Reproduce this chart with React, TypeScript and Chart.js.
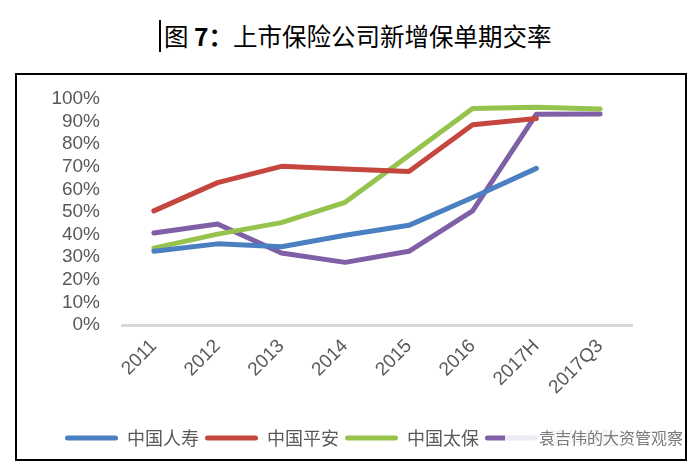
import { useEffect, useRef } from 'react'
import Chart from 'chart.js/auto'

const categories = ['2011', '2012', '2013', '2014', '2015', '2016', '2017H', '2017Q3']
const seriesNames = ['中国人寿', '中国平安', '中国太保', '新华保险']
const chinaLife = [32.6, 35.9, 34.6, 39.7, 44.1, 56.4, 69.3, null]
const pingAn = [50.5, 63.0, 70.2, 69.0, 67.9, 88.6, 91.4, null]
const cpic = [34.0, 40.2, 45.3, 54.3, 75.0, 95.8, 96.4, 95.6]
const newChinaLife = [40.7, 44.7, 31.9, 27.7, 32.6, 50.5, 93.3, 93.4]
const yTicks = [0, 10, 20, 30, 40, 50, 60, 70, 80, 90, 100]

const colors = ['#4a7fc1', '#c4463f', '#96c34d', '#7f5fa6']

export default function App() {
  const canvasRef = useRef<HTMLCanvasElement>(null)
  const chartRef = useRef<Chart | null>(null)

  useEffect(() => {
    if (!canvasRef.current) return
    const ctx = canvasRef.current.getContext('2d')
    if (!ctx) return
    if (chartRef.current) chartRef.current.destroy()

    const values = [chinaLife, pingAn, cpic, newChinaLife]

    chartRef.current = new Chart(ctx, {
      type: 'line',
      data: {
        labels: categories,
        datasets: values.map((v, i) => ({
          label: seriesNames[i],
          data: v,
          borderColor: colors[i],
          backgroundColor: colors[i],
          borderWidth: 5,
          borderCapStyle: 'round' as const,
          borderJoinStyle: 'round' as const,
          pointRadius: 0,
          fill: false,
          tension: 0,
          spanGaps: false
        }))
      },
      options: {
        responsive: true,
        maintainAspectRatio: false,
        animation: false,
        layout: {
          padding: { top: 24, right: 18, bottom: 2, left: 0 }
        },
        scales: {
          x: {
            offset: true,
            grid: { display: false, drawTicks: false },
            border: { display: true, color: '#d9d9d9', width: 3 },
            ticks: {
              autoSkip: false,
              maxRotation: 45,
              minRotation: 45,
              padding: 10,
              color: '#595959',
              font: { size: 19, family: 'Liberation Sans, Arial, sans-serif' }
            },
            afterFit: (scale: any) => {
              scale.height = 98
            }
          },
          y: {
            min: 0,
            max: 100,
            afterBuildTicks: (scale: any) => {
              scale.ticks = yTicks.map((v) => ({ value: v }))
            },
            grid: { display: false, drawTicks: false },
            border: { display: false },
            ticks: {
              autoSkip: false,
              padding: 22,
              color: '#595959',
              font: { size: 19, family: 'Liberation Sans, Arial, sans-serif' },
              callback: (v: any) => v + '%'
            },
            afterFit: (scale: any) => {
              scale.width = 105
              scale.paddingTop = 11
              scale.paddingBottom = 11
            }
          },
          // empty right-hand band so the legend keeps the full box width
          yRight: {
            position: 'right',
            min: 0,
            max: 100,
            grid: { display: false, drawTicks: false },
            border: { display: false },
            ticks: { display: false },
            afterFit: (scale: any) => {
              scale.width = 35
              scale.paddingTop = 0
              scale.paddingBottom = 0
            }
          }
        },
        plugins: {
          legend: {
            position: 'bottom',
            labels: {
              boxWidth: 53,
              boxHeight: 5,
              padding: 6,
              useBorderRadius: true,
              borderRadius: 2.5,
              color: '#595959',
              font: { size: 18, family: 'Noto Sans CJK SC, sans-serif' },
              generateLabels: (chart: any) =>
                Chart.defaults.plugins.legend.labels
                  .generateLabels(chart)
                  .map((l: any) => ({ ...l, lineWidth: 0, borderRadius: 2.5 }))
            }
          },
          tooltip: { enabled: false }
        }
      }
    })

    return () => {
      if (chartRef.current) {
        chartRef.current.destroy()
        chartRef.current = null
      }
    }
  }, [])

  return (
    <div style={{ position: 'fixed', left: 0, top: 0, width: 700, height: 466, background: '#fff', overflow: 'hidden' }}>
      <div
        style={{
          position: 'absolute',
          left: 159,
          top: 20,
          height: 32,
          borderLeft: '2px solid #000',
          paddingLeft: 3,
          fontFamily: 'Noto Sans CJK SC, sans-serif',
          fontSize: 24.5,
          lineHeight: '32px',
          color: '#000',
          whiteSpace: 'nowrap'
        }}
      >
        图 <b>7：</b>上市保险公司新增保单期交率
      </div>
      <div
        style={{
          position: 'absolute',
          left: 15,
          top: 73,
          width: 672,
          height: 388,
          border: '2px solid #000',
          boxSizing: 'border-box'
        }}
      >
        <div style={{ position: 'relative', width: 668, height: 384 }}>
          <canvas ref={canvasRef} />
        </div>
      </div>
      <div
        style={{
          position: 'absolute',
          left: 505,
          top: 426,
          width: 178,
          height: 22,
          background: 'rgba(255,255,255,0.88)',
          color: '#7a7a7a',
          fontFamily: 'Noto Sans CJK SC, sans-serif',
          fontSize: 16,
          lineHeight: '22px',
          textAlign: 'right',
          whiteSpace: 'nowrap'
        }}
      >
        袁吉伟的大资管观察
      </div>
    </div>
  )
}
